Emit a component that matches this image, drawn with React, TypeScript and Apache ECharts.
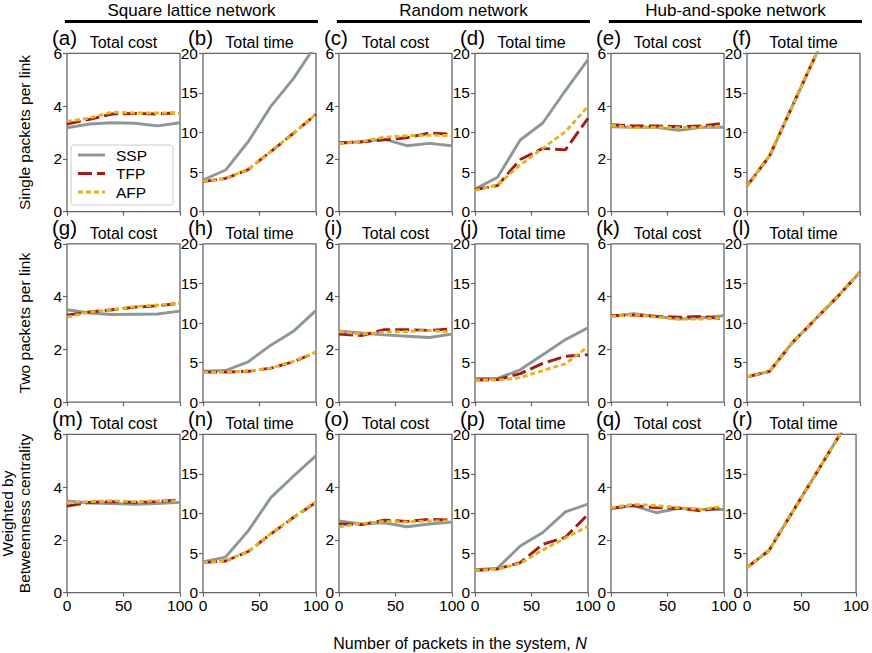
import React, { useEffect, useRef } from "react";
import * as echarts from "echarts";

const N = [0, 20, 40, 60, 80, 100];
const SERIES_NAMES = ["SSP", "TFP", "AFP"];
const COLUMN_HEADERS = ["Square lattice network", "Random network", "Hub-and-spoke network"];
const ROW_NAMES = ["Single packets per link", "Two packets per link"];
const ROW3_NAME = ["Weighted by", "Betweenness centrality"];
const PANEL_LETTERS = "abcdefghijklmnopqr".split("");
const PANEL_TITLES = ["Total cost", "Total time"];
const COST_TICKS = { min: 0, max: 6, interval: 2 };
const TIME_TICKS = { min: 0, max: 20, interval: 5 };
const X_TICKS = { min: 0, max: 100, interval: 50 };

// Row 1: single packets per link
const aSSP = [3.18, 3.32, 3.37, 3.35, 3.25, 3.37];
const aTFP = [3.32, 3.5, 3.7, 3.72, 3.7, 3.75];
const aAFP = [3.42, 3.55, 3.77, 3.74, 3.74, 3.73];
const bSSP = [4.0, 5.26, 8.84, 13.3, 16.8, 21.1];
const bTFP = [3.8, 4.2, 5.3, 7.6, 9.9, 12.3];
const bAFP = [3.85, 4.2, 5.35, 7.6, 9.9, 12.3];
const cSSP = [2.6, 2.65, 2.75, 2.5, 2.59, 2.5];
const cTFP = [2.6, 2.65, 2.72, 2.8, 2.98, 2.93];
const cAFP = [2.58, 2.66, 2.82, 2.88, 2.9, 2.88];
const dSSP = [2.85, 4.35, 9.05, 11.2, 15.3, 19.2];
const dTFP = [2.8, 3.3, 6.6, 8.0, 7.8, 11.8];
const dAFP = [2.7, 3.4, 5.9, 8.0, 10.1, 13.3];
const eSSP = [3.22, 3.2, 3.2, 3.08, 3.2, 3.2];
const eTFP = [3.3, 3.25, 3.25, 3.22, 3.25, 3.35];
const eAFP = [3.28, 3.18, 3.2, 3.18, 3.2, 3.25];
const fSSP = [3.25, 7.05, 13.3, 19.5, 25.8, 32.0];
const fTFP = [3.25, 7.05, 13.3, 19.5, 25.8, 32.0];
const fAFP = [3.25, 7.05, 13.3, 19.5, 25.8, 32.0];

// Row 2: two packets per link
const gSSP = [3.5, 3.38, 3.32, 3.33, 3.34, 3.45];
const gTFP = [3.3, 3.42, 3.5, 3.6, 3.65, 3.75];
const gAFP = [3.22, 3.42, 3.5, 3.62, 3.68, 3.75];
const hSSP = [3.9, 4.0, 5.1, 7.2, 8.95, 11.6];
const hTFP = [3.8, 3.8, 3.9, 4.3, 5.1, 6.3];
const hAFP = [3.75, 3.8, 3.95, 4.3, 5.15, 6.35];
const iSSP = [2.7, 2.62, 2.55, 2.5, 2.45, 2.58];
const iTFP = [2.58, 2.52, 2.75, 2.75, 2.72, 2.78];
const iAFP = [2.68, 2.58, 2.65, 2.68, 2.72, 2.65];
const jSSP = [3.0, 3.0, 4.1, 6.0, 7.9, 9.4];
const jTFP = [2.8, 2.85, 3.6, 4.9, 5.8, 6.0];
const jAFP = [2.8, 2.8, 3.1, 4.0, 4.85, 7.0];
const kSSP = [3.25, 3.35, 3.25, 3.15, 3.2, 3.28];
const kTFP = [3.28, 3.3, 3.25, 3.22, 3.25, 3.15];
const kAFP = [3.25, 3.32, 3.22, 3.15, 3.15, 3.2];
const lSSP = [3.2, 3.9, 7.5, 10.4, 13.3, 16.4];
const lTFP = [3.2, 3.9, 7.5, 10.4, 13.3, 16.4];
const lAFP = [3.2, 3.9, 7.5, 10.4, 13.3, 16.4];

// Row 3: weighted by betweenness centrality
const mSSP = [3.48, 3.4, 3.38, 3.35, 3.38, 3.42];
const mTFP = [3.28, 3.42, 3.45, 3.42, 3.45, 3.52];
const mAFP = [3.42, 3.45, 3.48, 3.45, 3.48, 3.48];
const nSSP = [3.9, 4.5, 7.8, 12.0, 14.7, 17.3];
const nTFP = [3.8, 4.0, 5.2, 7.4, 9.5, 11.4];
const nAFP = [3.8, 4.05, 5.2, 7.45, 9.5, 11.5];
const oSSP = [2.72, 2.6, 2.65, 2.5, 2.6, 2.68];
const oTFP = [2.6, 2.58, 2.75, 2.7, 2.78, 2.75];
const oAFP = [2.5, 2.62, 2.7, 2.68, 2.72, 2.72];
const pSSP = [2.9, 3.1, 5.9, 7.6, 10.2, 11.2];
const pTFP = [2.8, 3.0, 3.8, 6.1, 7.0, 9.9];
const pAFP = [2.8, 3.0, 3.7, 5.4, 6.9, 8.4];
const qSSP = [3.2, 3.3, 3.03, 3.2, 3.15, 3.15];
const qTFP = [3.2, 3.3, 3.22, 3.2, 3.1, 3.25];
const qAFP = [3.22, 3.35, 3.3, 3.22, 3.15, 3.28];
const rSSP = [3.2, 5.3, 9.8, 14.3, 18.8, 23.3];
const rTFP = [3.2, 5.3, 9.8, 14.3, 18.8, 23.3];
const rAFP = [3.2, 5.3, 9.8, 14.3, 18.8, 23.3];

const PANELS = [
  [aSSP, aTFP, aAFP], [bSSP, bTFP, bAFP], [cSSP, cTFP, cAFP],
  [dSSP, dTFP, dAFP], [eSSP, eTFP, eAFP], [fSSP, fTFP, fAFP],
  [gSSP, gTFP, gAFP], [hSSP, hTFP, hAFP], [iSSP, iTFP, iAFP],
  [jSSP, jTFP, jAFP], [kSSP, kTFP, kAFP], [lSSP, lTFP, lAFP],
  [mSSP, mTFP, mAFP], [nSSP, nTFP, nAFP], [oSSP, oTFP, oAFP],
  [pSSP, pTFP, pAFP], [qSSP, qTFP, qAFP], [rSSP, rTFP, rAFP],
];

const FONT = "Liberation Sans, Arial, Helvetica, sans-serif";
const COLORS = ["#8c9797", "#a11c16", "#e8b11e"];
const DASHES: any[] = ["solid", [14, 5], [5, 3]];
const GRAPHIC_DASHES: any[] = [null, [14, 5], [5, 3]];
const AXIS_COLOR = "#666666";

const GRID_LEFT0 = 67;
const GRID_DX = 136;
const GRID_TOP0 = 53.3;
const GRID_DY = 190.5;
const GRID_W = 113;
const GRID_H = 158.4;

function txt(x: number, y: number, text: string, size: number, opts: any = {}) {
  return {
    type: "text",
    x,
    y,
    rotation: opts.rotation || 0,
    style: {
      text,
      fontSize: size,
      fontFamily: FONT,
      fill: "#000",
      textAlign: opts.align || "center",
      textVerticalAlign: "middle",
      rich: opts.rich,
    },
  };
}

export default function App() {
  const ref = useRef<HTMLDivElement>(null);

  useEffect(() => {
    document.body.style.margin = "0";
    if (!ref.current) return;
    const chart = echarts.init(ref.current, undefined, { renderer: "svg" });

    const grids: any[] = [];
    const xAxes: any[] = [];
    const yAxes: any[] = [];
    const series: any[] = [];
    const graphics: any[] = [];

    PANELS.forEach((panel, idx) => {
      const row = Math.floor(idx / 6);
      const col = idx % 6;
      const isTime = col % 2 === 1;
      const left = GRID_LEFT0 + col * GRID_DX;
      const top = GRID_TOP0 + row * GRID_DY;
      grids.push({
        left,
        top,
        width: GRID_W,
        height: GRID_H,
        show: true,
        borderColor: AXIS_COLOR,
        borderWidth: 1.3,
        backgroundColor: "transparent",
      });
      xAxes.push({
        type: "value",
        gridIndex: idx,
        ...X_TICKS,
        axisLine: { show: false },
        axisTick: { show: true, inside: false, length: 4, lineStyle: { color: AXIS_COLOR, width: 1.2 } },
        splitLine: { show: false },
        axisLabel: {
          show: row === 2,
          margin: 5,
          fontSize: 15.5,
          color: "#000",
          fontFamily: FONT,
        },
      });
      const yt = isTime ? TIME_TICKS : COST_TICKS;
      yAxes.push({
        type: "value",
        gridIndex: idx,
        ...yt,
        axisLine: { show: false },
        axisTick: { show: true, inside: false, length: 4, lineStyle: { color: AXIS_COLOR, width: 1.2 } },
        splitLine: { show: false },
        axisLabel: {
          show: true,
          margin: 5,
          fontSize: 15.5,
          color: "#000",
          fontFamily: FONT,
        },
      });
      panel.forEach((vals, s) => {
        series.push({
          type: "line",
          name: SERIES_NAMES[s],
          xAxisIndex: idx,
          yAxisIndex: idx,
          data: N.map((n, k) => [n, vals[k]]),
          symbol: "none",
          showSymbol: false,
          clip: true,
          lineStyle: { color: COLORS[s], width: 2.9, type: DASHES[s], cap: "butt" },
          itemStyle: { color: COLORS[s] },
          z: 2 + s,
        });
      });
      graphics.push(txt(left - 15, top - 16, `(${PANEL_LETTERS[idx]})`, 20.5, { align: "left" }));
      graphics.push(txt(left + GRID_W / 2, top - 10.5, PANEL_TITLES[col % 2], 16));
    });

    // Column headers
    COLUMN_HEADERS.forEach((h, i) => {
      const x0 = GRID_LEFT0 + i * 2 * GRID_DX - 2;
      const x1 = GRID_LEFT0 + (i * 2 + 1) * GRID_DX + GRID_W + 2;
      graphics.push(txt((x0 + x1) / 2, 10, h, 17));
      graphics.push({
        type: "line",
        shape: { x1: x0, y1: 21.5, x2: x1, y2: 21.5 },
        style: { stroke: "#000", lineWidth: 3 },
      });
    });

    // Row names
    ROW_NAMES.forEach((name, r) => {
      graphics.push(txt(24, GRID_TOP0 + r * GRID_DY + GRID_H / 2, name, 15.5, { rotation: Math.PI / 2 }));
    });
    ROW3_NAME.forEach((name, k) => {
      graphics.push(txt(7 + k * 17.5, GRID_TOP0 + 2 * GRID_DY + GRID_H / 2, name, 15.5, { rotation: Math.PI / 2 }));
    });

    // X axis name
    graphics.push(
      txt(460, 643, "Number of packets in the system, {i|N}", 16, {
        rich: { i: { fontStyle: "italic", fontSize: 16, fontFamily: FONT, fill: "#000" } },
      })
    );

    // Legend (drawn in panel a)
    const LEG_X = 71;
    const LEG_Y = 145;
    graphics.push({
      type: "rect",
      shape: { x: LEG_X, y: LEG_Y, width: 102, height: 60, r: 3 },
      style: { fill: "rgba(255,255,255,0.85)", stroke: "#cccccc", lineWidth: 1 },
      z: 50,
    });
    SERIES_NAMES.forEach((name, s) => {
      const y = LEG_Y + 10 + s * 18.5;
      graphics.push({
        type: "line",
        shape: { x1: LEG_X + 7, y1: y, x2: LEG_X + 34, y2: y },
        style: { stroke: COLORS[s], lineWidth: 2.9, lineDash: GRAPHIC_DASHES[s], lineCap: "butt" },
        z: 51,
      });
      const t: any = txt(LEG_X + 45, y, name, 15.5, { align: "left" });
      t.z = 51;
      graphics.push(t);
    });

    chart.setOption({
      animation: false,
      backgroundColor: "#ffffff",
      grid: grids,
      xAxis: xAxes,
      yAxis: yAxes,
      series,
      graphic: graphics,
    });

    return () => {
      chart.dispose();
    };
  }, []);

  return <div ref={ref} style={{ width: 872, height: 653 }} />;
}
